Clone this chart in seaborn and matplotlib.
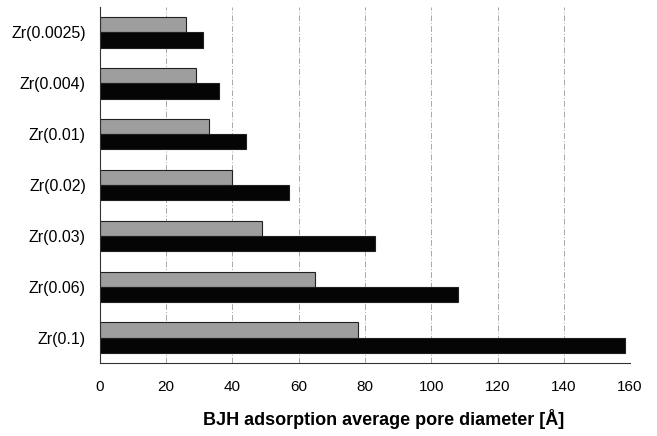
import matplotlib
matplotlib.use("Agg")
import matplotlib.pyplot as plt
import seaborn as sns
import pandas as pd
import numpy as np

categories = ["Zr(0.0025)", "Zr(0.004)", "Zr(0.01)", "Zr(0.02)", "Zr(0.03)", "Zr(0.06)", "Zr(0.1)"]
series_names = ["series1", "series2"]
gray_values = [26, 29, 33, 40, 49, 65, 78]
black_values = [31, 36, 44, 57, 83, 108, 158.5]
x_ticks = [0, 20, 40, 60, 80, 100, 120, 140, 160]
x_label = "BJH adsorption average pore diameter [Å]"

df = pd.DataFrame({
    "cat": categories * 2,
    "series": [series_names[0]] * len(categories) + [series_names[1]] * len(categories),
    "value": gray_values + black_values,
})

sns.set_theme(style="white")
plt.rcParams["font.family"] = ["Liberation Sans", "DejaVu Sans"]
plt.rcParams["text.color"] = "black"
plt.rcParams["xtick.color"] = "black"
plt.rcParams["ytick.color"] = "black"
plt.rcParams["axes.labelcolor"] = "black"

fig = plt.figure(figsize=(6.57, 4.36), dpi=100)
ax = fig.add_axes([0.152, 0.167, 0.807, 0.817])

sns.barplot(data=df, y="cat", x="value", hue="series", order=categories,
            hue_order=series_names, palette=["#9e9e9e", "#050505"],
            orient="h", width=0.6, gap=0, edgecolor="#202020", linewidth=0.8,
            legend=False, ax=ax)

ax.set_xlim(0, 160)
ax.set_xticks(x_ticks)
ax.set_xticklabels([str(t) for t in x_ticks], fontsize=11)
ax.set_yticks(np.arange(-0.5, len(categories), 1.0), minor=True)
ax.tick_params(axis="y", which="major", labelsize=11.5, length=0, pad=10)
ax.tick_params(axis="y", which="minor", length=3, width=0.8, color="#333333", direction="out")
ax.tick_params(axis="x", length=0, pad=12)
ax.set_ylabel("")
ax.set_xlabel(x_label, fontsize=13, fontweight="bold")
ax.xaxis.set_label_coords(0.536, -0.13)
ax.xaxis.grid(True, color="#a8a8a8", linestyle=(0, (6, 2, 1, 2)), linewidth=0.7)
ax.set_axisbelow(True)
for s in ["top", "right"]:
    ax.spines[s].set_visible(False)
for s in ["left", "bottom"]:
    ax.spines[s].set_color("#333333")
    ax.spines[s].set_linewidth(0.8)

fig.savefig("out.png", dpi=100, facecolor="white")
